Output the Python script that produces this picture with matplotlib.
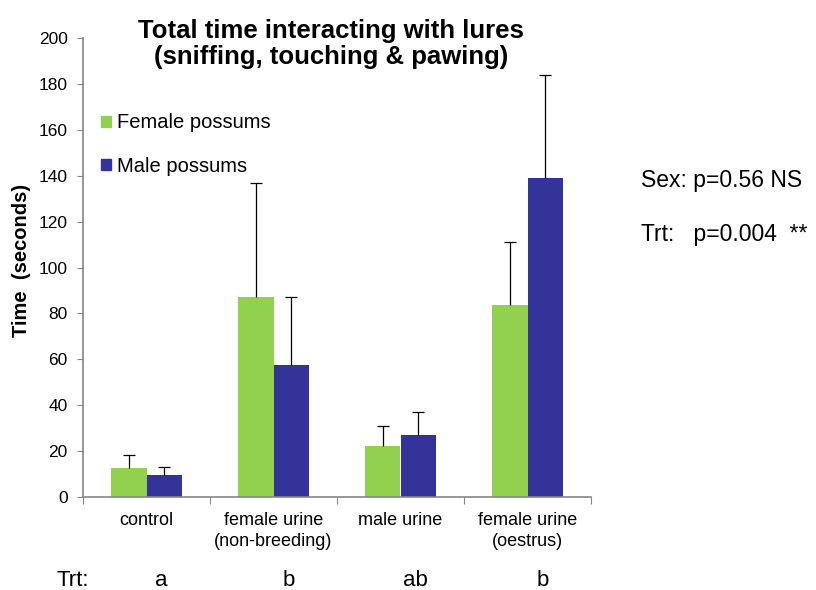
import numpy as np
import matplotlib.pyplot as plt
from matplotlib.patches import Patch
from matplotlib.transforms import blended_transform_factory

plt.rcParams['font.family'] = ['Liberation Sans', 'DejaVu Sans']

# data
categories = ['control', 'female urine\n(non-breeding)', 'male urine', 'female urine\n(oestrus)']
female_mean = [12.6, 87.2, 22.3, 83.8]
male_mean = [9.5, 57.6, 27.0, 139.2]
female_err = [5.7, 49.6, 8.6, 27.2]
male_err = [3.5, 29.5, 10.1, 44.8]
trt_letters = ['a', 'b', 'ab', 'b']

green = '#92D050'
blue = '#333399'
axis_grey = '#868686'

fig = plt.figure(figsize=(8.16, 5.9), dpi=100)
ax = fig.add_axes([83 / 816, 93 / 590, 508 / 816, 459 / 590])

x = np.arange(len(categories))
w = 0.283
for xs, mean, err, col in [(x - w / 2, female_mean, female_err, green),
                           (x + w / 2, male_mean, male_err, blue)]:
    ax.bar(xs, mean, w, color=col, zorder=2)
    top = np.array(mean) + np.array(err)
    # upper error bar only, cap at the top
    ax.vlines(xs, mean, top, color='black', lw=0.9, zorder=3)
    ax.plot(xs, top, ls='none', marker='_', ms=8, mew=0.9, color='black', zorder=3)

ax.set_xlim(-0.5, len(categories) - 0.5)
ax.set_ylim(0, 200)
ax.set_yticks(range(0, 201, 20))
ax.tick_params(axis='y', labelsize=12.5, length=4, color=axis_grey, pad=7)

# category labels in the middle, tick marks on the boundaries
ax.set_xticks(np.arange(-0.5, len(categories), 1))
ax.set_xticklabels([])
ax.tick_params(axis='x', length=5, color=axis_grey)
for i, c in enumerate(categories):
    ax.text(i, -6.5, c, ha='center', va='top', fontsize=13, linespacing=1.3)

for s in ['top', 'right']:
    ax.spines[s].set_visible(False)
for s in ['left', 'bottom']:
    ax.spines[s].set_color(axis_grey)
    ax.spines[s].set_linewidth(1.2)

ax.set_ylabel('Time  (seconds)', fontsize=14.5, fontweight='bold')
ax.yaxis.set_label_coords(-0.102, 0.516)

handles = [Patch(color=green, label='Female possums'), Patch(color=blue, label='Male possums')]
ax.legend(handles=handles, loc='upper left', bbox_to_anchor=(0.0, 0.875), frameon=False,
          fontsize=14.5, handlelength=0.5, handleheight=0.5, handletextpad=0.3,
          labelspacing=1.2, borderaxespad=0.5)

fig.text(331 / 816, 1 - 44 / 590, 'Total time interacting with lures\n(sniffing, touching & pawing)',
         ha='center', va='center', fontsize=18.5, fontweight='bold', linespacing=1.1)

# significance letters under the categories
tr = blended_transform_factory(ax.transData, fig.transFigure)
fig.text(73 / 816, 1 - 580 / 590, 'Trt:', ha='center', va='center', fontsize=16)
for i, t in enumerate(trt_letters):
    ax.text(i + 0.12, 1 - 580 / 590, t, transform=tr, ha='center', va='center', fontsize=16)

fig.text(641 / 816, 1 - 181 / 590, 'Sex: p=0.56 NS', ha='left', va='center', fontsize=16.5)
fig.text(641 / 816, 1 - 234 / 590, 'Trt:   p=0.004  **', ha='left', va='center', fontsize=16.5)

fig.savefig('out.png', dpi=100)
